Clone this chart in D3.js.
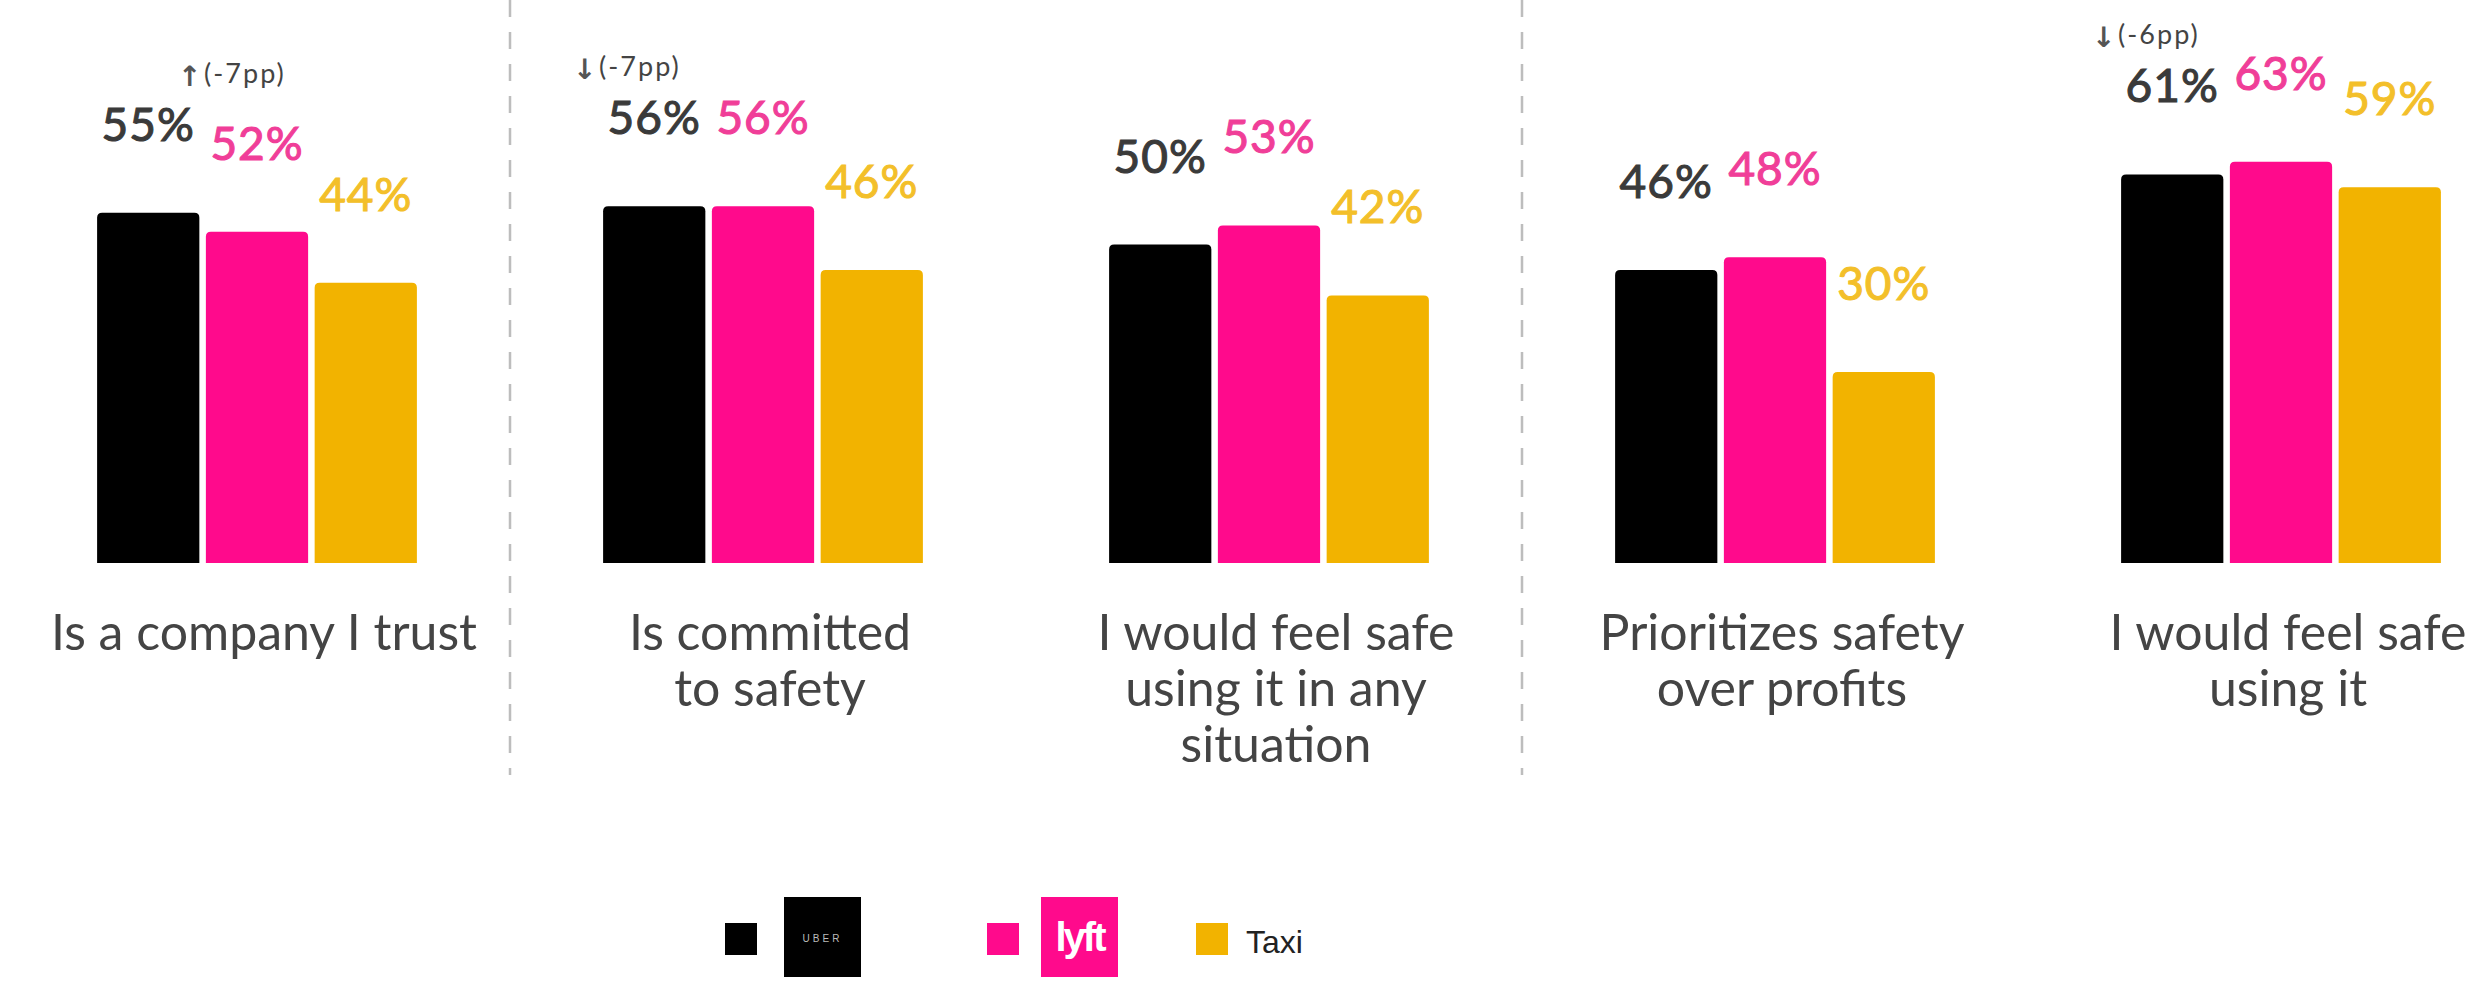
<!DOCTYPE html>
<html>
<head>
<meta charset="utf-8">
<script src="https://cdn.jsdelivr.net/npm/d3@7"></script>
<style>
  html, body { margin: 0; padding: 0; background: #fff; }
  svg { display: block; }
</style>
</head>
<body>
<svg id="chart" width="2483" height="990"></svg>
<script>
// Survey statements (one group of bars each)
const categories = [
  "Is a company I trust",
  "Is committed to safety",
  "I would feel safe using it in any situation",
  "Prioritizes safety over profits",
  "I would feel safe using it"
];
// How each statement wraps under its group
const categoryLines = [
  ["Is a company I trust"],
  ["Is committed", "to safety"],
  ["I would feel safe", "using it in any", "situation"],
  ["Prioritizes safety", "over profits"],
  ["I would feel safe", "using it"]
];
const series = ["Uber", "Lyft", "Taxi"];
// Share of respondents agreeing (%)
const uberValues = [55, 56, 50, 46, 61];
const lyftValues = [52, 56, 53, 48, 63];
const taxiValues = [44, 46, 42, 30, 59];
// Change notes shown above the Uber label
const changeGroups = [0, 1, 4];
const changeArrows = ["\u2191", "\u2193", "\u2193"];
const changeTexts = ["(-7pp)", "(-7pp)", "(-6pp)"];

const valuesBySeries = { Uber: uberValues, Lyft: lyftValues, Taxi: taxiValues };
const barColor = { Uber: "#000000", Lyft: "#ff0a8c", Taxi: "#f2b300" };
const labelColor = { Uber: "#3a3a3a", Lyft: "#f03e98", Taxi: "#f3bf2a" };

const svg = d3.select("#chart");
const baseline = 563;

const x0 = d3.scaleBand()
  .domain(categories)
  .range([4, 4 + 5 * 506])
  .paddingInner(0.368)
  .paddingOuter(0.184);

const x1 = d3.scaleBand()
  .domain(series)
  .range([0, x0.bandwidth()])
  .paddingInner(0.06);

const y = d3.scaleLinear().domain([0, 50]).range([baseline, baseline - 318.5]);

// Dashed separators between some groups
const dividerAfter = [0, 2];
svg.append("g").selectAll("line")
  .data(dividerAfter)
  .join("line")
  .attr("x1", i => (x0(categories[i]) + x0.bandwidth() + x0(categories[i + 1])) / 2)
  .attr("x2", i => (x0(categories[i]) + x0.bandwidth() + x0(categories[i + 1])) / 2)
  .attr("y1", 0)
  .attr("y2", 775)
  .attr("stroke", "#bdbdbd")
  .attr("stroke-width", 2.5)
  .attr("stroke-dasharray", "17,15");

// Bar with rounded top corners
function topRoundedBar(x, yTop, w, h, r) {
  r = Math.min(r, h / 2, w / 2);
  return `M${x},${yTop + h}V${yTop + r}Q${x},${yTop} ${x + r},${yTop}` +
         `H${x + w - r}Q${x + w},${yTop} ${x + w},${yTop + r}V${yTop + h}Z`;
}

const rows = [];
categories.forEach((c, i) => {
  series.forEach(s => rows.push({ cat: c, idx: i, s, v: valuesBySeries[s][i] }));
});

const groups = svg.append("g");
groups.selectAll("path.bar")
  .data(rows)
  .join("path")
  .attr("class", "bar")
  .attr("fill", d => barColor[d.s])
  .attr("d", d => topRoundedBar(x0(d.cat) + x1(d.s), y(d.v), x1.bandwidth(), baseline - y(d.v), 5));

// Value labels
groups.selectAll("text.val")
  .data(rows)
  .join("text")
  .attr("class", "val")
  .attr("x", d => x0(d.cat) + x1(d.s) + x1.bandwidth() / 2)
  .attr("y", d => y(d.v) - 72)
  .attr("text-anchor", "middle")
  .attr("font-family", "Lato, 'Open Sans', sans-serif")
  .attr("font-size", 46)
  .attr("font-weight", 400)
  .attr("letter-spacing", 1)
  .attr("fill", d => labelColor[d.s])
  .attr("stroke", d => labelColor[d.s])
  .attr("stroke-width", 1.1)
  .text(d => d.v + "%");

// Change notes
const changeDx = [81, -30, -29];
const notes = svg.append("g").selectAll("g")
  .data(changeGroups.map((g, k) => ({ g, k })))
  .join("g")
  .attr("transform", d => {
    const c = categories[d.g];
    const tx = x0(c) + x1("Uber") + changeDx[d.k];
    const ty = y(uberValues[d.g]) - 72 - 58;
    return `translate(${tx},${ty})`;
  });
notes.append("text")
  .attr("x", 0)
  .attr("y", 3)
  .attr("font-family", "'DejaVu Sans', sans-serif")
  .attr("font-size", 28)
  .attr("font-weight", 700)
  .attr("fill", "#555")
  .text(d => changeArrows[d.k]);
notes.append("text")
  .attr("x", 26)
  .attr("y", 0)
  .attr("font-family", "Lato, sans-serif")
  .attr("font-size", 27)
  .attr("letter-spacing", 2)
  .attr("fill", "#444")
  .text(d => changeTexts[d.k]);

// Category labels
const catText = svg.append("g").selectAll("text")
  .data(categories)
  .join("text")
  .attr("x", c => x0(c) + x0.bandwidth() / 2 + 7)
  .attr("y", 650)
  .attr("text-anchor", "middle")
  .attr("font-family", "Lato, 'Open Sans', sans-serif")
  .attr("font-size", 50)
  .attr("font-weight", 400)
  .attr("fill", "#444");
catText.each(function(c, i) {
  d3.select(this).selectAll("tspan")
    .data(categoryLines[i])
    .join("tspan")
    .attr("x", x0(c) + x0.bandwidth() / 2 + 7)
    .attr("dy", (d, j) => j === 0 ? 0 : 56)
    .text(d => d);
});

// Legend
const legendSwatchX = [725, 987, 1196];
const legend = svg.append("g").selectAll("g")
  .data(series)
  .join("g")
  .attr("transform", (s, i) => `translate(${legendSwatchX[i]},923)`);
legend.append("rect")
  .attr("width", 32).attr("height", 32)
  .attr("fill", s => barColor[s]);

const uberLogo = legend.filter(s => s === "Uber");
uberLogo.append("rect")
  .attr("x", 59).attr("y", -26).attr("width", 77).attr("height", 80)
  .attr("fill", "#000");
uberLogo.append("text")
  .attr("x", 97.5).attr("y", 19)
  .attr("text-anchor", "middle")
  .attr("font-family", "'Liberation Sans', Arial, sans-serif")
  .attr("font-size", 10)
  .attr("letter-spacing", 3)
  .attr("fill", "#bbb")
  .text("UBER");

const lyftLogo = legend.filter(s => s === "Lyft");
lyftLogo.append("rect")
  .attr("x", 54).attr("y", -26).attr("width", 77).attr("height", 80)
  .attr("fill", "#ff0a8c");
lyftLogo.append("text")
  .attr("x", 92.5).attr("y", 28)
  .attr("text-anchor", "middle")
  .attr("font-family", "'Liberation Sans', Arial, sans-serif")
  .attr("font-size", 40)
  .attr("font-weight", 700)
  .attr("letter-spacing", -3)
  .attr("fill", "#fff")
  .text("lyft");

legend.filter(s => s === "Taxi").append("text")
  .attr("x", 50).attr("y", 30)
  .attr("font-family", "'Liberation Sans', Arial, sans-serif")
  .attr("font-size", 32)
  .attr("fill", "#222")
  .text("Taxi");
</script>
</body>
</html>
